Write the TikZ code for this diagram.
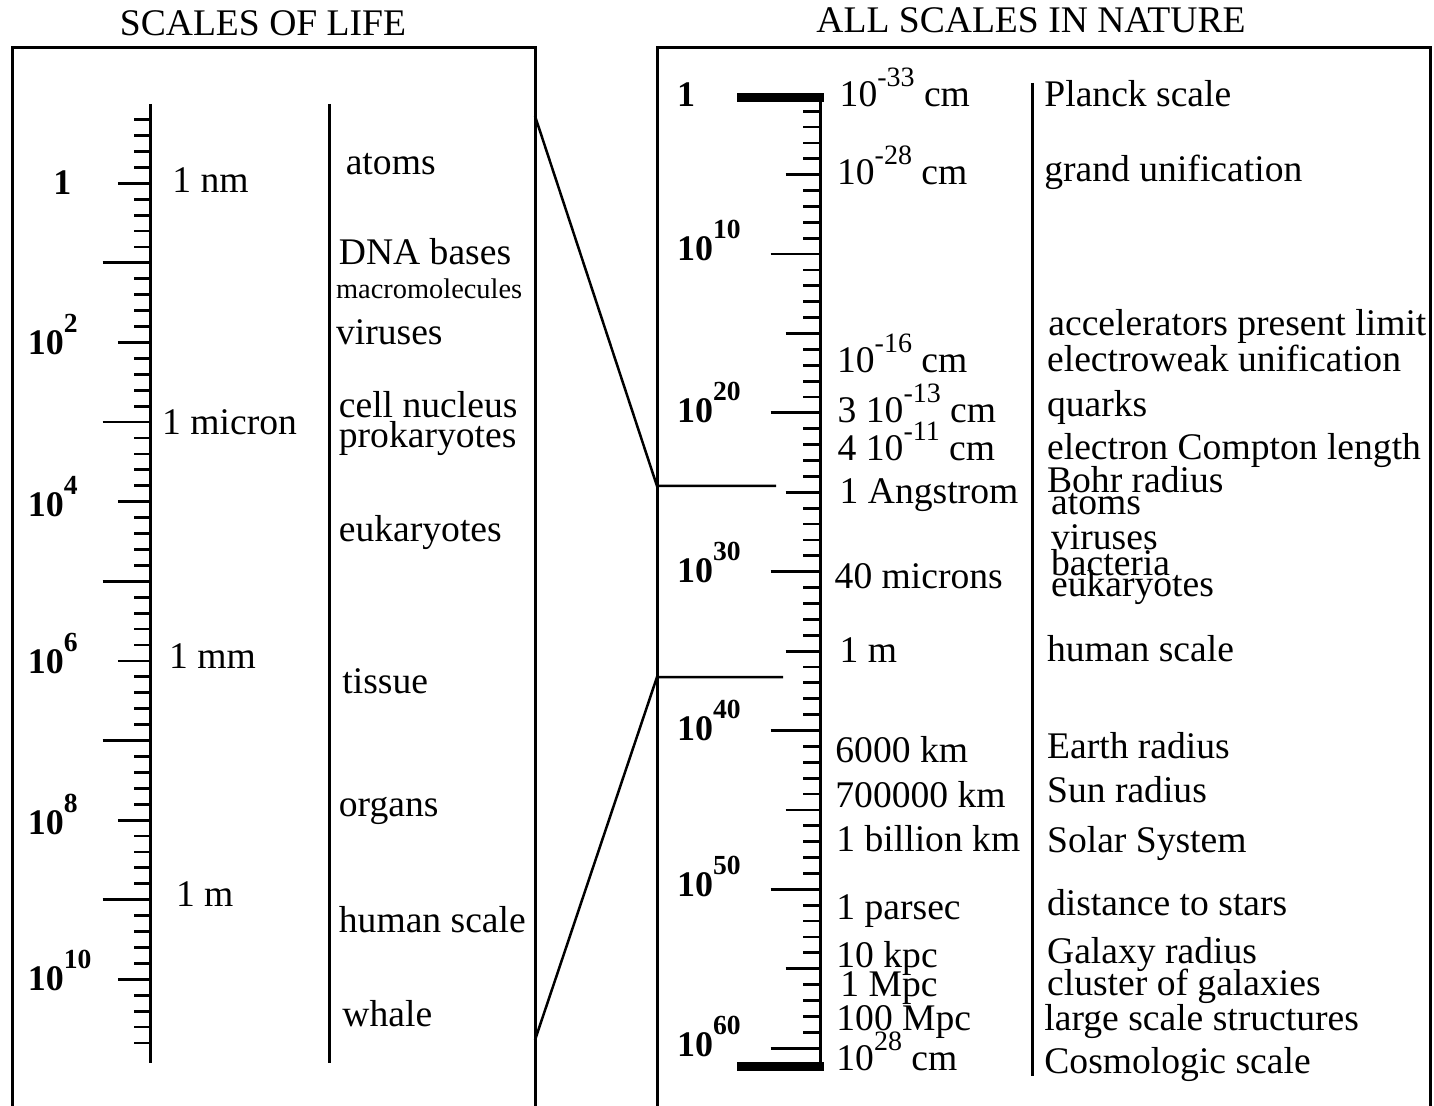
\documentclass[tikz,border=0pt]{standalone}
\usepackage{fontspec}
\setmainfont{Liberation Serif}
\newcommand\myexpn[1]{\raisebox{10.3pt}{\fontsize{14pt}{14pt}\selectfont #1}}
\newcommand\myexpb[1]{\raisebox{11pt}{\fontsize{13.8pt}{13.8pt}\selectfont\bfseries #1}}
\begin{document}
\begin{tikzpicture}[x=0.5pt,y=-0.5pt,
  lbl/.style={inner sep=0pt, anchor=base west, font=\fontsize{18.8pt}{20pt}\selectfont},
  smalllbl/.style={inner sep=0pt, anchor=base west, font=\fontsize{14.2pt}{16pt}\selectfont},
  blbl/.style={inner sep=0pt, anchor=base west, font=\fontsize{18pt}{20pt}\selectfont\bfseries},
  ttl/.style={inner sep=0pt, anchor=base, font=\fontsize{18.8pt}{20pt}\selectfont},
  frame/.style={line width=1.5pt},
  axisline/.style={line width=1.5pt},
  tickline/.style={line width=1.4pt},
  link/.style={line width=1.25pt},
  bar/.style={line width=4.5pt},
]
\useasboundingbox (0,0) rectangle (1434,1106);

% titles
\node[ttl] (t1) at (263,36) {SCALES OF LIFE};
\node[ttl] (t2) at (1031,33) {ALL SCALES IN NATURE};

% frames (open at the bottom)
\draw[frame] (12,1106) -- (12,48) -- (535,48) -- (535,1106);
\draw[frame] (657,1106) -- (657,48) -- (1430,48) -- (1430,1106);

% ---------------- left scale ----------------
\draw[axisline] (150.5,104) -- (150.5,1063);
\foreach \k in {-4,...,54}{
  \pgfmathtruncatemacro\m{mod(\k+10,10)}
  \pgfmathsetmacro\yy{183.3+15.92*\k}
  \ifnum\m=0 \def\xl{117.8}\else\ifnum\m=5 \def\xl{102.6}\else\def\xl{134.3}\fi\fi
  \draw[tickline] (\xl,\yy) -- (150.5,\yy);
}
\node[blbl] (l0) at (53,195) {1};
\node[blbl] (l2) at (27.5,355) {10\myexpb{2}};
\node[blbl] (l4) at (27.5,516.7) {10\myexpb{4}};
\node[blbl] (l6) at (27.5,673.3) {10\myexpb{6}};
\node[blbl] (l8) at (27.5,834) {10\myexpb{8}};
\node[blbl] (l10) at (27.5,990) {10\myexpb{10}};

\node[lbl] (u1) at (172,192.7) {1 nm};
\node[lbl] (u2) at (161.8,435) {1 micron};
\node[lbl] (u3) at (168.7,668.3) {1 mm};
\node[lbl] (u4) at (175.6,906.7) {1 m};

\draw[axisline] (329.5,104) -- (329.5,1063);
\node[lbl] (f1) at (345.4,175) {atoms};
\node[lbl] (f2) at (338.5,265) {DNA bases};
\node[smalllbl] (f3) at (335.7,299) {macromolecules};
\node[lbl] (f4) at (335.7,345) {viruses};
\node[lbl] (f5) at (338.5,417.3) {cell nucleus};
\node[lbl] (f6) at (338.5,447.3) {prokaryotes};
\node[lbl] (f7) at (338.5,541.7) {eukaryotes};
\node[lbl] (f8) at (342,693) {tissue};
\node[lbl] (f9) at (338.5,816.7) {organs};
\node[lbl] (f10) at (338.5,932.7) {human scale};
\node[lbl] (f11) at (342,1026.7) {whale};

% ---------------- right scale ----------------
\draw[axisline] (820.7,97) -- (820.7,1066);
\foreach \n in {1,...,60}{
  \pgfmathtruncatemacro\m{mod(\n,10)}
  \pgfmathsetmacro\yy{95.3+15.88*\n}
  \ifnum\m=0 \def\xl{770.7}\else\ifnum\m=5 \def\xl{785.7}\else\def\xl{803.3}\fi\fi
  \draw[tickline] (\xl,\yy) -- (820.7,\yy);
}
\draw[bar] (737.3,97.2) -- (824,97.2);
\draw[bar] (737.3,1066) -- (824,1066);

\node[blbl] (r0) at (676.7,106.7) {1};
\node[blbl] (r10) at (676.7,260.7) {10\myexpb{10}};
\node[blbl] (r20) at (676.7,422.7) {10\myexpb{20}};
\node[blbl] (r30) at (676.7,582.7) {10\myexpb{30}};
\node[blbl] (r40) at (676.7,740.7) {10\myexpb{40}};
\node[blbl] (r50) at (676.7,896.7) {10\myexpb{50}};
\node[blbl] (r60) at (676.7,1056.7) {10\myexpb{60}};

\node[lbl] (v1) at (839.3,106.7) {10\myexpn{-33} cm};
\node[lbl] (v2) at (836.7,185) {10\myexpn{-28} cm};
\node[lbl] (v3) at (836.7,372.7) {10\myexpn{-16} cm};
\node[lbl] (v4) at (837.3,422.7) {3 10\myexpn{-13} cm};
\node[lbl] (v5) at (837.3,461) {4 10\myexpn{-11} cm};
\node[lbl] (v6) at (839.3,503.3) {1 Angstrom};
\node[lbl] (v7) at (834.3,588.3) {40 microns};
\node[lbl] (v8) at (839.3,662.3) {1 m};
\node[lbl] (v9) at (835,762.7) {6000 km};
\node[lbl] (v10) at (835,807.3) {700000 km};
\node[lbl] (v11) at (836,851.7) {1 billion km};
\node[lbl] (v12) at (836,919.3) {1 parsec};
\node[lbl] (v13) at (836,967.3) {10 kpc};
\node[lbl] (v14) at (840,996.7) {1 Mpc};
\node[lbl] (v15) at (836,1030) {100 Mpc};
\node[lbl] (v16) at (836,1070.7) {10\myexpn{28} cm};

\draw[axisline] (1032.5,83) -- (1032.5,1076);
\node[lbl] (n1) at (1044,106.7) {Planck scale};
\node[lbl] (n2) at (1044,182) {grand unification};
\node[lbl] (n3) at (1048,336) {accelerators present limit};
\node[lbl] (n4) at (1046.7,371.7) {electroweak unification};
\node[lbl] (n5) at (1046.7,416.7) {quarks};
\node[lbl] (n6) at (1046.7,459.3) {electron Compton length};
\node[lbl] (n7) at (1046.7,492.7) {Bohr radius};
\node[lbl] (n8) at (1050.7,515) {atoms};
\node[lbl] (n9) at (1050.7,550) {viruses};
\node[lbl] (n10) at (1050.7,575) {bacteria};
\node[lbl] (n11) at (1050.7,596.7) {eukaryotes};
\node[lbl] (n12) at (1046.7,661.7) {human scale};
\node[lbl] (n13) at (1046.7,758.3) {Earth radius};
\node[lbl] (n14) at (1046.7,802.7) {Sun radius};
\node[lbl] (n15) at (1046.7,852.7) {Solar System};
\node[lbl] (n16) at (1046.7,915) {distance to stars};
\node[lbl] (n17) at (1046.7,963.3) {Galaxy radius};
\node[lbl] (n18) at (1046.7,995) {cluster of galaxies};
\node[lbl] (n19) at (1044,1030) {large scale structures};
\node[lbl] (n20) at (1044,1073.3) {Cosmologic scale};

% ---------------- zoom connectors ----------------
\coordinate (a1) at (535,116);
\coordinate (b1) at (657,486);
\coordinate (c1) at (776,486);
\coordinate (a2) at (535,1040);
\coordinate (b2) at (657,677);
\coordinate (c2) at (783,677);
\draw[link] (a1) -- (b1) -- (c1);
\draw[link] (a2) -- (b2) -- (c2);
\end{tikzpicture}
\end{document}
